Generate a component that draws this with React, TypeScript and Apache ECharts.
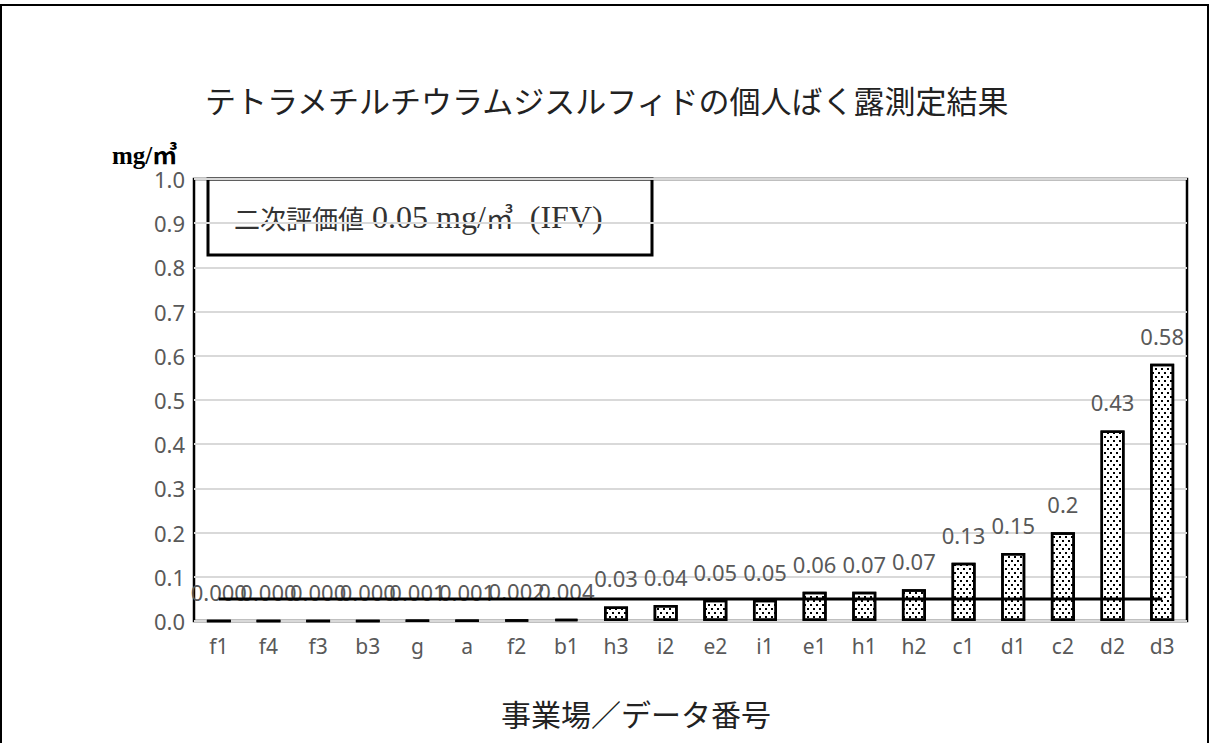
import React, { useEffect, useRef } from "react";
import * as echarts from "echarts";

const titleText = "テトラメチルチウラムジスルフィドの個人ばく露測定結果";
const yUnit = "mg/㎥";
const xName = "事業場／データ番号";
const categories = ["f1", "f4", "f3", "b3", "g", "a", "f2", "b1", "h3", "i2", "e2", "i1", "e1", "h1", "h2", "c1", "d1", "c2", "d2", "d3"];
const values = [0.0002, 0.0003, 0.0003, 0.0004, 0.001, 0.001, 0.002, 0.004, 0.033, 0.036, 0.048, 0.048, 0.066, 0.066, 0.072, 0.132, 0.154, 0.201, 0.431, 0.582];
const valueLabels = ["0.000", "0.000", "0.000", "0.000", "0.001", "0.001", "0.002", "0.004", "0.03", "0.04", "0.05", "0.05", "0.06", "0.07", "0.07", "0.13", "0.15", "0.2", "0.43", "0.58"];
const ifvValue = 0.05;
const ifvLine = categories.map(() => ifvValue);
const yTicks = { min: 0, max: 1, interval: 0.1 };

export default function App() {
  const ref = useRef<HTMLDivElement>(null);
  useEffect(() => {
    if (!ref.current) return;
    const chart = echarts.init(ref.current, null, { renderer: "svg" });
    chart.setOption({
      animation: false,
      backgroundColor: "#fff",
      grid: {
        left: 194,
        right: 24,
        top: 179,
        bottom: 122,
        show: true,
        borderColor: "#000",
        borderWidth: 2.5,
        backgroundColor: "transparent",
      },
      xAxis: {
        type: "category",
        data: categories,
        axisLine: { show: false },
        axisTick: { show: false },
        axisLabel: { color: "#595959", fontSize: 21, fontFamily: "Noto Sans", margin: 14 },
      },
      yAxis: {
        type: "value",
        min: yTicks.min,
        max: yTicks.max,
        interval: yTicks.interval,
        axisLine: { show: false },
        axisTick: { show: false },
        axisLabel: {
          color: "#595959",
          fontSize: 22,
          fontFamily: "Noto Sans",
          margin: 9,
          formatter: (v: number) => v.toFixed(1),
        },
        splitLine: { lineStyle: { color: "#d9d9d9", width: 2 } },
      },
      series: [
        {
          type: "bar",
          data: values,
          barWidth: 24,
          itemStyle: {
            color: "#fff",
            borderColor: "#000",
            borderWidth: 2.5,
            decal: {
              symbol: "rect",
              symbolSize: 1,
              color: "#000",
              dashArrayX: [[1.5, 3.5], [0, 2.5, 1.5, 1]],
              dashArrayY: [1.5, 1.5],
              rotation: 0,
            },
          },
          label: {
            show: true,
            position: "top",
            distance: 17,
            color: "#595959",
            fontSize: 22,
            fontFamily: "Noto Sans",
            formatter: (p: any) => valueLabels[p.dataIndex],
          },
          z: 2,
        },
        {
          type: "line",
          data: ifvLine,
          symbol: "none",
          lineStyle: { color: "#000", width: 3 },
          z: 3,
          silent: true,
        },
      ],
      graphic: [
        {
          type: "rect",
          shape: { x: 1, y: 5, width: 1207, height: 760 },
          style: { fill: "none", stroke: "#000", lineWidth: 2 },
          silent: true,
        },
        {
          type: "text",
          x: 205,
          y: 99,
          style: {
            text: titleText,
            fontSize: 31,
            fontFamily: "Noto Sans CJK JP",
            fill: "#222",
            textVerticalAlign: "middle",
          },
        },
        {
          type: "text",
          x: 112,
          y: 155,
          style: {
            text: yUnit,
            fontSize: 25,
            fontWeight: "bold",
            fontFamily: "Liberation Serif, Noto Sans CJK JP",
            fill: "#000",
            textVerticalAlign: "middle",
          },
        },
        {
          type: "rect",
          shape: { x: 208, y: 179, width: 444, height: 76 },
          style: { fill: "none", stroke: "#000", lineWidth: 3 },
        },
        {
          type: "text",
          x: 234,
          y: 217,
          style: {
            rich: {
              j: { fontSize: 26, fontFamily: "Noto Sans CJK JP", fill: "#333" },
              l: { fontSize: 32, fontFamily: "Liberation Serif", fill: "#333" },
              u: { fontSize: 28, fontFamily: "Noto Sans CJK JP", fill: "#333" },
            },
            text: "{j|二次評価値}{l| 0.05 mg/}{u|㎥}{l|  (IFV)}",
            textVerticalAlign: "middle",
          },
        },
        {
          type: "text",
          x: 636,
          y: 713,
          style: {
            text: xName,
            fontSize: 30,
            fontFamily: "Noto Sans CJK JP",
            fill: "#222",
            textAlign: "center",
            textVerticalAlign: "middle",
          },
        },
      ],
    });
    return () => chart.dispose();
  }, []);
  return (
    <div
      ref={ref}
      style={{ position: "absolute", left: 0, top: 0, width: 1211, height: 743 }}
    />
  );
}
